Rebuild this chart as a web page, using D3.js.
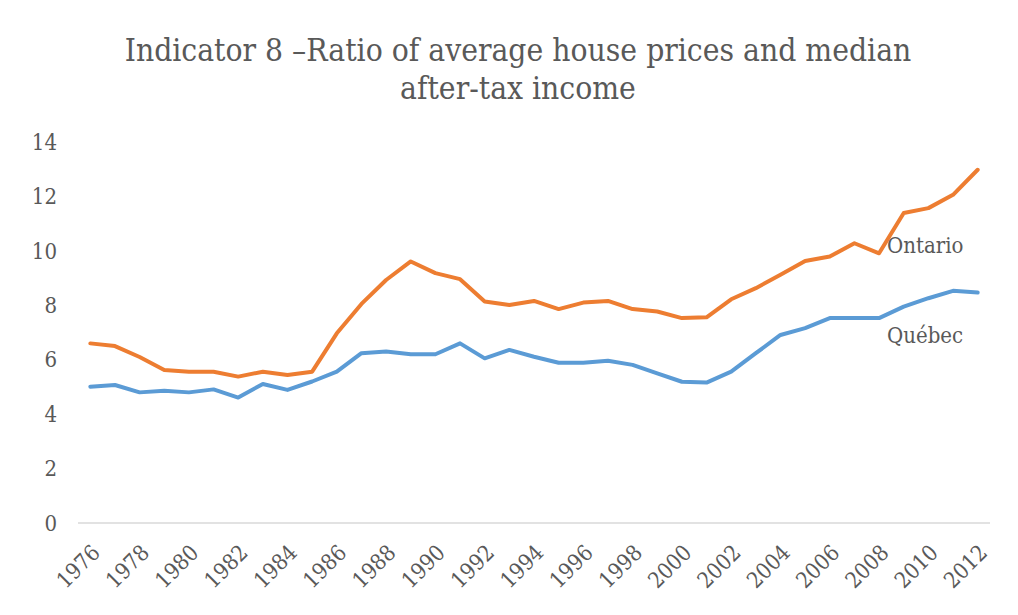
<!DOCTYPE html>
<html>
<head>
<meta charset="utf-8">
<script src="https://cdn.jsdelivr.net/npm/d3@7"></script>
<style>
  body { margin: 0; background: #fff; }
  text { font-family: "DejaVu Serif Condensed", "Liberation Serif", serif; fill: #595959; }
</style>
</head>
<body>
<div id="chart"></div>
<script>
var years = d3.range(1976, 2013);
var yTicks = [0, 2, 4, 6, 8, 10, 12, 14];
var ontario = [6.6, 6.5, 6.1, 5.62, 5.56, 5.56, 5.38, 5.56, 5.44, 5.56, 6.97, 8.05,
    8.93, 9.61, 9.18, 8.96, 8.14, 8.01, 8.16, 7.86, 8.1, 8.16, 7.86, 7.77, 7.53, 7.56,
    8.22, 8.63, 9.12, 9.63, 9.79, 10.28, 9.91, 11.39, 11.57, 12.06, 12.98];
var quebec = [5.01, 5.07, 4.8, 4.86, 4.8, 4.91, 4.61, 5.11, 4.89, 5.2, 5.56, 6.24,
    6.3, 6.2, 6.2, 6.6, 6.05, 6.36, 6.11, 5.89, 5.89, 5.96, 5.81, 5.5, 5.19, 5.16,
    5.56, 6.24, 6.91, 7.16, 7.53, 7.53, 7.53, 7.95, 8.26, 8.53, 8.47];
var seriesNames = ["Ontario", "Québec"];
var seriesColors = ["#ED7D31", "#5B9BD5"];

var vis = {};
vis.width = 1018;
vis.height = 615;
vis.margin = {top: 142, right: 28, bottom: 92, left: 78};

var svg = d3.select("#chart").append("svg")
    .attr("width", vis.width)
    .attr("height", vis.height);

// title
var title = svg.append("text")
    .attr("text-anchor", "middle")
    .style("font-size", "31.5px");
title.append("tspan").attr("x", 518).attr("y", 61)
    .text("Indicator 8 \u2013Ratio of average house prices and median");
title.append("tspan").attr("x", 518).attr("y", 99)
    .text("after-tax income");

var x = d3.scaleBand()
    .domain(years)
    .range([vis.margin.left, vis.width - vis.margin.right]);

var y = d3.scaleLinear()
    .domain([0, 14])
    .range([vis.height - vis.margin.bottom, vis.margin.top]);

// baseline
svg.append("line")
    .attr("x1", x.range()[0]).attr("x2", x.range()[1])
    .attr("y1", y(0)).attr("y2", y(0))
    .attr("stroke", "#d9d9d9")
    .attr("stroke-width", 1.5);

// y axis labels
svg.append("g").selectAll("text")
    .data(yTicks)
    .enter().append("text")
    .attr("x", 57)
    .attr("y", function(d) { return y(d); })
    .attr("dy", "0.35em")
    .attr("text-anchor", "end")
    .style("font-size", "22px")
    .text(function(d) { return d; });

// x axis labels, every other year
svg.append("g").selectAll("text")
    .data(years.filter(function(d, i) { return i % 2 == 0; }))
    .enter().append("text")
    .attr("text-anchor", "end")
    .style("font-size", "22px")
    .attr("transform", function(d) {
        return "translate(" + (x(d) + x.bandwidth() / 2 + 11) + "," + (y(0) + 31) + ") rotate(-45)";
    })
    .text(function(d) { return d; });

var line = d3.line()
    .x(function(d, i) { return x(years[i]) + x.bandwidth() / 2; })
    .y(function(d) { return y(d); });

[ontario, quebec].forEach(function(s, i) {
    svg.append("path")
        .datum(s)
        .attr("d", line)
        .attr("fill", "none")
        .attr("stroke", seriesColors[i])
        .attr("stroke-width", 4)
        .attr("stroke-linejoin", "round")
        .attr("stroke-linecap", "round");
});

// series labels
svg.append("text")
    .attr("x", 887).attr("y", 253)
    .style("font-size", "22px")
    .text(seriesNames[0]);
svg.append("text")
    .attr("x", 887).attr("y", 343)
    .style("font-size", "22px")
    .text(seriesNames[1]);
</script>
</body>
</html>
